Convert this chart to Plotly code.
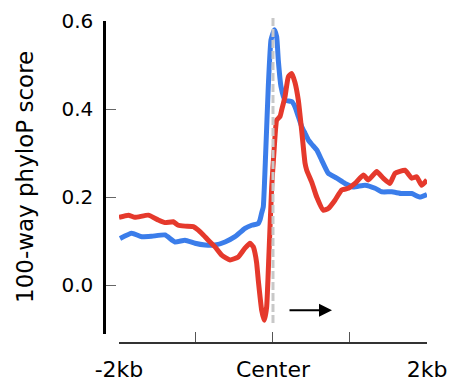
import plotly.graph_objects as go

# positions in bp relative to center
blue_x = [-1987, -1835, -1705, -1575, -1403, -1273, -1143, -1013, -883, -753, -623, -494, -364, -277, -191, -169, -147, -126,
          -95, -61, -26, 17, 48, 69, 104, 156, 243, 286, 329, 373, 416, 458, 503, 568, 632, 718, 827, 935, 1043, 1195,
          1325, 1412, 1542, 1671, 1801, 1909, 2000]
blue_y = [0.106, 0.118, 0.110, 0.111, 0.114, 0.098, 0.102, 0.095, 0.091, 0.091, 0.098, 0.110, 0.129, 0.136, 0.140, 0.148,
          0.164, 0.178, 0.300, 0.451, 0.557, 0.580, 0.564, 0.511, 0.451, 0.420, 0.417, 0.405, 0.383, 0.360, 0.345, 0.330,
          0.320, 0.307, 0.284, 0.254, 0.243, 0.231, 0.223, 0.227, 0.220, 0.212, 0.212, 0.208, 0.208, 0.200, 0.206]

red_x = [-2000, -1879, -1792, -1619, -1490, -1403, -1295, -1230, -1143, -1035, -970, -905, -840, -753, -666, -558, -451,
         -364, -299, -256, -234, -212, -191, -147, -113, -82, -52, -17, 17, 48, 91, 113, 156, 199, 243, 286, 329, 373,
         416, 438, 503, 568, 653, 718, 805, 892, 978, 1065, 1173, 1238, 1347, 1432, 1519, 1584, 1714, 1801, 1866, 1931,
         2000]
red_y = [0.154, 0.159, 0.154, 0.159, 0.148, 0.142, 0.144, 0.136, 0.134, 0.133, 0.125, 0.114, 0.102, 0.087, 0.068, 0.057,
         0.064, 0.084, 0.095, 0.087, 0.073, 0.050, 0.011, -0.057, -0.080, -0.049, 0.073, 0.223, 0.314, 0.375, 0.383,
         0.398, 0.428, 0.473, 0.481, 0.460, 0.420, 0.350, 0.277, 0.261, 0.234, 0.200, 0.170, 0.174, 0.193, 0.216, 0.220,
         0.231, 0.250, 0.239, 0.258, 0.243, 0.231, 0.254, 0.261, 0.243, 0.246, 0.227, 0.239]

x_tickvals = [-2000, -1000, 0, 1000, 2000]
x_ticktext = ["-2kb", "", "Center", "", "2kb"]
y_tickvals = [0.0, 0.2, 0.4, 0.6]
y_ticktext = ["0.0", "0.2", "0.4", "0.6"]

BLUE = "#3b7dea"
RED = "#e5392c"

fig = go.Figure()
fig.add_trace(go.Scatter(x=blue_x, y=blue_y, mode="lines",
                         line=dict(color=BLUE, width=5, shape="spline", smoothing=0.4), showlegend=False))
fig.add_trace(go.Scatter(x=red_x, y=red_y, mode="lines",
                         line=dict(color=RED, width=5, shape="spline", smoothing=0.4), showlegend=False))

fig.add_shape(type="line", xref="x", yref="paper", x0=0, x1=0, y0=0.062, y1=1.019,
              line=dict(color="#c8c8c8", width=3, dash="8px,3px"), layer="above")

fig.add_annotation(x=766, y=-0.057, ax=195, ay=-0.057, xref="x", yref="y", axref="x", ayref="y",
                   text="", showarrow=True, arrowhead=2, arrowsize=1.3, arrowwidth=2, arrowcolor="black")

fig.add_annotation(text="100-way phyloP score", textangle=-90, xref="paper", yref="paper",
                   x=-0.2446, y=0.5155, xanchor="center", yanchor="middle", showarrow=False,
                   font=dict(family="DejaVu Sans", size=23, color="black"))

fig.update_layout(
    width=450, height=383, autosize=False,
    margin=dict(l=104, r=23, t=21, b=40),
    plot_bgcolor="white", paper_bgcolor="white",
    xaxis=dict(range=[-2000, 2000], domain=[0.0464, 1], anchor="free", position=0,
               tickvals=x_tickvals, ticktext=x_ticktext, ticks="inside", ticklen=10, tickwidth=1.2,
               tickcolor="#555555", showline=True, linecolor="#333333", linewidth=1.5,
               showgrid=False, zeroline=False, ticklabelstandoff=7, automargin=False,
               tickfont=dict(family="DejaVu Sans", size=22, color="black")),
    yaxis=dict(range=[-0.111, 0.6], domain=[0.028, 1], anchor="free", position=0,
               tickvals=y_tickvals, ticktext=y_ticktext, ticks="inside", ticklen=10, tickwidth=1.2,
               tickcolor="#666666", showline=True, linecolor="black", linewidth=2.5,
               showgrid=False, zeroline=False, ticklabelstandoff=6, automargin=False,
               tickfont=dict(family="DejaVu Sans", size=20, color="black")),
)

fig.write_html("out.html")
